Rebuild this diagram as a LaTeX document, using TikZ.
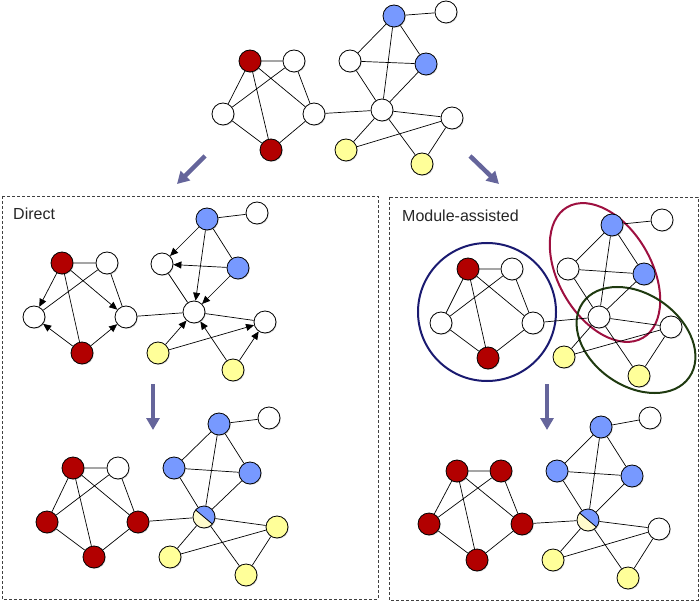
\documentclass[tikz,border=0pt]{standalone}
\usepackage{fontspec}
\setmainfont{Liberation Sans}
\usetikzlibrary{arrows.meta,shadows,calc}
\definecolor{nred}{HTML}{B20000}
\definecolor{nblue}{HTML}{7799FF}
\definecolor{nyel}{HTML}{FFFF99}
\definecolor{npale}{HTML}{FFFBCC}
\definecolor{arrowc}{HTML}{65659B}
\definecolor{cnavy}{HTML}{1A1A70}
\definecolor{cmaroon}{HTML}{9E1040}
\definecolor{cgreen}{HTML}{1F3A10}
\tikzset{
  nd/.style={circle, draw=black, line width=0.8pt, minimum size=22pt, inner sep=0pt, fill=white,
    drop shadow={shadow xshift=0.9pt, shadow yshift=-0.9pt, opacity=0.3}},
  rnode/.style={nd, fill=nred},
  bnode/.style={nd, fill=nblue},
  ynode/.style={nd, fill=nyel},
  wnode/.style={nd},
  hnode/.style={nd, fill=npale, path picture={
    \fill[nblue] ($(path picture bounding box.center)+(140:18)$) -- ($(path picture bounding box.center)+(-40:18)$) -- ($(path picture bounding box.center)+(50:18)$) -- cycle;
    \draw[line width=0.8pt] ($(path picture bounding box.center)+(140:12)$) -- ($(path picture bounding box.center)+(-40:12)$);}},
  edge/.style={line width=0.7pt},
  darr/.style={edge, -{Triangle[length=8pt,width=7pt]}},
  bigarr/.style={draw=arrowc, line width=4.5pt, -{Triangle[length=12pt,width=13pt]}},
  dbox/.style={draw=black!75, dash pattern=on 3pt off 2pt, line width=0.7pt},
  lbl/.style={anchor=base west, font=\fontsize{16}{19}\selectfont, text=black!85, inner sep=0pt},
  ring/.style={line width=2pt},
}
\newcommand{\gedges}[1]{%
  \draw[edge] (#1a)--(#1b) (#1a)--(#1c) (#1a)--(#1d) (#1a)--(#1e) (#1b)--(#1c) (#1b)--(#1d)
    (#1c)--(#1e) (#1d)--(#1e) (#1d)--(#1j) (#1f)--(#1g) (#1f)--(#1h) (#1f)--(#1i) (#1f)--(#1j)
    (#1h)--(#1i) (#1h)--(#1j) (#1i)--(#1j) (#1j)--(#1k) (#1j)--(#1l) (#1j)--(#1m) (#1l)--(#1k) (#1m)--(#1k);}
\begin{document}
\begin{tikzpicture}[x=1pt,y=1pt]
\useasboundingbox (0,0) rectangle (700,-601);

% boxes
\draw[dbox] (2,-196) rectangle (378,-599);
\draw[dbox] (389,-197) rectangle (698,-600);
\node[lbl] (tdirect) at (13,-219.5) {Direct};
\node[lbl] (tmodule) at (402,-221.5) {Module-assisted};

% big arrows
\coordinate (a1s) at (205,-156); \coordinate (a1e) at (177,-184);
\coordinate (a2s) at (470,-156); \coordinate (a2e) at (499,-184);
\coordinate (a3s) at (153,-384); \coordinate (a3e) at (153,-430);
\coordinate (a4s) at (547,-384); \coordinate (a4e) at (547,-430);
\draw[bigarr] (a1s) -- (a1e);
\draw[bigarr] (a2s) -- (a2e);
\draw[bigarr] (a3s) -- (a3e);
\draw[bigarr] (a4s) -- (a4e);

% ---- top graph
\node[rnode] (Ta) at (250,-61) {};
\node[wnode] (Tb) at (294,-61) {};
\node[wnode] (Tc) at (223,-114) {};
\node[wnode] (Td) at (314,-114) {};
\node[rnode] (Te) at (271,-150) {};
\node[bnode] (Tf) at (394,-16) {};
\node[wnode] (Tg) at (446,-12) {};
\node[wnode] (Th) at (350,-61) {};
\node[bnode] (Ti) at (426,-64) {};
\node[wnode] (Tj) at (382,-110) {};
\node[wnode] (Tk) at (452,-118) {};
\node[ynode] (Tl) at (346,-150) {};
\node[ynode] (Tm) at (422,-164) {};
\gedges{T}

% ---- direct, top
\node[rnode] (Da) at (62,-263) {};
\node[wnode] (Db) at (107,-263) {};
\node[wnode] (Dc) at (34,-317) {};
\node[wnode] (Dd) at (126,-317) {};
\node[rnode] (De) at (82,-353) {};
\node[bnode] (Df) at (207,-219) {};
\node[wnode] (Dg) at (257,-213) {};
\node[wnode] (Dh) at (162,-264) {};
\node[bnode] (Di) at (238,-268) {};
\node[wnode] (Dj) at (194,-312) {};
\node[wnode] (Dk) at (265,-322) {};
\node[ynode] (Dl) at (158,-353) {};
\node[ynode] (Dm) at (233,-370) {};
\draw[edge] (Da)--(Db) (Da)--(De) (Db)--(Dc) (Db)--(Dd) (Dd)--(Dj)
  (Df)--(Dg) (Df)--(Di) (Dh)--(Dj) (Dj)--(Dk);
\draw[darr] (Da)--(Dc);
\draw[darr] (Da)--(Dd);
\draw[darr] (De)--(Dc);
\draw[darr] (De)--(Dd);
\draw[darr] (Df)--(Dh);
\draw[darr] (Df)--(Dj);
\draw[darr] (Di)--(Dh);
\draw[darr] (Di)--(Dj);
\draw[darr] (Dl)--(Dj);
\draw[darr] (Dl)--(Dk);
\draw[darr] (Dm)--(Dj);
\draw[darr] (Dm)--(Dk);

% ---- direct, bottom
\node[rnode] (Ea) at (73,-468) {};
\node[wnode] (Eb) at (118,-468) {};
\node[rnode] (Ec) at (47,-522) {};
\node[rnode] (Ed) at (138,-522) {};
\node[rnode] (Ee) at (94,-557) {};
\node[bnode] (Ef) at (219,-424) {};
\node[wnode] (Eg) at (269,-418) {};
\node[bnode] (Eh) at (174,-468) {};
\node[bnode] (Ei) at (250,-473) {};
\node[hnode] (Ej) at (204,-517) {};
\node[ynode] (Ek) at (277,-527) {};
\node[ynode] (El) at (170,-557) {};
\node[ynode] (Em) at (246,-575) {};
\gedges{E}

% ---- module-assisted, top
\draw[ring, cnavy] (487,-312) circle[radius=69];
\draw[ring, cmaroon] (605,-272.5) ellipse[x radius=46.5, y radius=75.5, rotate=30];
\draw[ring, cgreen] (636,-340) ellipse[x radius=65, y radius=46, rotate=-35];
\node[rnode] (Ma) at (468,-269) {};
\node[wnode] (Mb) at (512,-269) {};
\node[wnode] (Mc) at (441,-323) {};
\node[wnode] (Md) at (533,-323) {};
\node[rnode] (Me) at (488,-358) {};
\node[bnode] (Mf) at (612,-225) {};
\node[wnode] (Mg) at (662,-220) {};
\node[wnode] (Mh) at (568,-269) {};
\node[bnode] (Mi) at (644,-274) {};
\node[wnode] (Mj) at (599,-317) {};
\node[wnode] (Mk) at (671,-327) {};
\node[ynode] (Ml) at (564,-357) {};
\node[ynode] (Mm) at (639,-376) {};
\gedges{M}

% ---- module-assisted, bottom
\node[rnode] (Na) at (457,-471) {};
\node[rnode] (Nb) at (501,-471) {};
\node[rnode] (Nc) at (429,-524) {};
\node[rnode] (Nd) at (522,-524) {};
\node[rnode] (Ne) at (477,-560) {};
\node[bnode] (Nf) at (601,-427) {};
\node[wnode] (Ng) at (650,-418) {};
\node[bnode] (Nh) at (557,-471) {};
\node[bnode] (Ni) at (632,-476) {};
\node[hnode] (Nj) at (588,-520) {};
\node[wnode] (Nk) at (659,-529) {};
\node[ynode] (Nl) at (553,-560) {};
\node[ynode] (Nm) at (628,-578) {};
\gedges{N}
\end{tikzpicture}
\end{document}
